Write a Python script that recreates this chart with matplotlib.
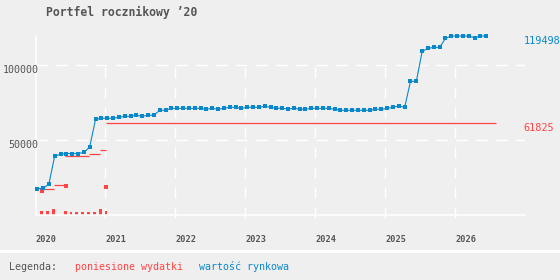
import matplotlib
matplotlib.use('Agg')
import matplotlib.pyplot as plt

# months counted from Jan 2020
miesiace = list(range(78))
wartosc = [17700, 18000, 20700, 39500, 40700, 41200, 41200, 41200, 41900, 45500,
           63900, 64700, 64700, 64700, 65300, 66000, 66000, 66700, 66000, 66700,
           66700, 70000, 70000, 71300, 71300, 71300, 71300, 71300, 71300, 70700,
           71300, 70700, 71300, 72000, 72000, 71300, 72000, 72000, 72000, 72700,
           72000, 71300, 71500, 70700, 71500, 70700, 70700, 71300, 71300, 71300,
           71300, 70700, 70000, 70000, 70000, 70000, 70000, 70000, 70700, 70700,
           71300, 72000, 72900, 72000, 89300, 89300, 109300, 111300, 112000, 112000,
           118000, 119500, 119500, 119500, 119500, 118400, 119500, 119498]

# cumulative costs, drawn as flat segments
koszt_od = [0.8, 2.8, 4.8, 8.8, 10.8, 11.8]
koszt_do = [2.8, 4.8, 8.8, 10.8, 11.8, 78.6]
koszt = [17300, 20000, 39300, 41000, 43300, 61825]

# single cost points
punkty_x = [0.8, 4.9, 11.8]
punkty_y = [16400, 19300, 18700]

# monthly purchases (bars at the bottom)
zakupy_x = [0.8, 1.8, 2.8, 4.8, 5.8, 6.8, 7.8, 8.8, 9.8, 10.8, 11.8]
zakupy = [2900, 2900, 4200, 2900, 2200, 2200, 2200, 2200, 2200, 4200, 2900]

lata = ['2020', '2021', '2022', '2023', '2024', '2025', '2026']
lata_x = [12 * k - 0.35 for k in range(len(lata))]
y_ticks = [50000, 100000]

BG = '#efefef'
BLUE = '#0a88cc'
RED = '#ff4444'
GREY = '#555555'
MONO = 'DejaVu Sans Mono'

plt.rcParams['lines.scale_dashes'] = False

W, H = 560, 280
fig = plt.figure(figsize=(W / 100, H / 100), dpi=100, facecolor=BG)
ax = fig.add_axes([36.3 / W, (H - 215.3) / H, 488.7 / W, 179.3 / H])
ax.set_facecolor(BG)
xmin, xmax = -0.15, 83.63
ax.set_xlim(xmin, xmax)
ax.set_ylim(0, 119550)

for s in ['top', 'right']:
    ax.spines[s].set_visible(False)
for s in ['left', 'bottom']:
    ax.spines[s].set_color('white')
    ax.spines[s].set_linewidth(1.1)
ax.set_xticks([])
ax.set_yticks([])

dash = (0, (7.9, 6.5))
ax.hlines(y_ticks, xmin, xmax, colors='white', lw=1.0, linestyles=[dash], zorder=1)
ax.vlines(lata_x[1:], -1500, 101500, colors='white', lw=1.0, linestyles=[dash],
          zorder=1, clip_on=False)

# purchases
ax.bar(zakupy_x, zakupy, width=0.46, color=RED, zorder=2)

# costs
ax.hlines(koszt, koszt_od, koszt_do, colors=RED, lw=0.9, zorder=3)
ax.plot(punkty_x, punkty_y, 's', color=RED, ms=2.3, mew=0, zorder=3)

# market value
ax.plot(miesiace, wartosc, '-s', color=BLUE, lw=0.8, ms=2.4, mew=0, zorder=4, clip_on=False)

# tick labels
for v in y_ticks:
    ax.text(0.0045, v, f'{v}', transform=ax.get_yaxis_transform(), ha='right', va='top',
            fontsize=7.2, family=MONO, color=GREY)
for x, lab in zip(lata_x, lata):
    ax.text(x, -0.147, lab, transform=ax.get_xaxis_transform(), ha='left', va='baseline',
            fontsize=6.2, family=MONO, fontweight='bold', color=GREY, clip_on=False)

# end values on the right
ax.text(83.4, wartosc[-1], f'{wartosc[-1]}', ha='left', va='top', fontsize=7.4,
        family=MONO, color=BLUE, clip_on=False)
ax.text(83.4, koszt[-1], f'{koszt[-1]}', ha='left', va='top', fontsize=7.4,
        family=MONO, color=RED, clip_on=False)

fig.text(45.7 / W, 1 - 15.7 / H, 'Portfel rocznikowy ’20', ha='left', va='baseline',
         fontsize=8.3, family=MONO, fontweight='bold', color=GREY)

# separator and legend
fig.add_artist(plt.Rectangle((0, 1 - 253 / H), 1, 3 / H, transform=fig.transFigure,
                             color='white', lw=0))
fig.text(9.3 / W, 1 - 270 / H, 'Legenda:', ha='left', va='baseline', fontsize=7.2,
         family=MONO, color=GREY)
fig.text(74.7 / W, 1 - 270 / H, 'poniesione wydatki', ha='left', va='baseline', fontsize=7.2,
         family=MONO, color=RED)
fig.text(199.3 / W, 1 - 270 / H, 'wartość rynkowa', ha='left', va='baseline', fontsize=7.2,
         family=MONO, color=BLUE)

fig.savefig('out.png', dpi=100, facecolor=BG)
